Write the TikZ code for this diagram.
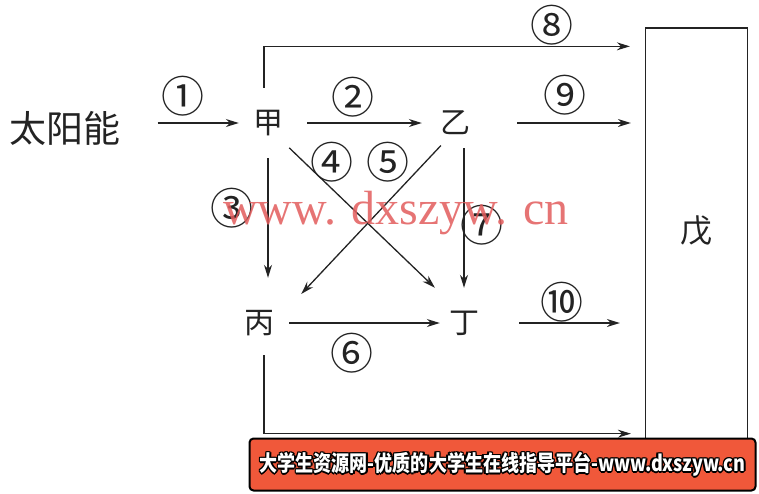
\documentclass[tikz,border=0pt]{standalone}
\usepackage{fontspec}
\newfontfamily\cjk{Noto Sans CJK SC}
\newfontfamily\markfont{Liberation Serif}
\usetikzlibrary{arrows.meta}

\definecolor{ink}{RGB}{35,35,35}
\definecolor{markred}{RGB}{226,92,92}
\definecolor{bannerred}{RGB}{240,88,58}

\newcommand\bannertext{\scalebox{0.82}[1]{\cjk\bfseries\fontsize{22}{22}\selectfont 大学生资源网-优质的大学生在线指导平台-www.dxszyw.cn}}

\begin{document}
\begin{tikzpicture}[x=1pt,y=-1pt,
    elem/.style={font=\cjk\fontsize{30}{30}\selectfont, inner sep=0pt, minimum size=30pt, text=ink},
    num/.style={font=\cjk\fontsize{43}{43}\selectfont, inner sep=0pt, text=ink},
    flow/.style={draw=ink, line width=1.3pt, -{Stealth[length=13pt,width=8pt]}},
    line/.style={draw=ink, line width=1.3pt}]
  \useasboundingbox (0,0) rectangle (759,493);

  % the five parts
  \node[elem, font=\cjk\fontsize{37}{37}\selectfont] (sun) at (65,128) {太阳能};
  \node[elem] (jia)  at (268,123) {甲};
  \node[elem] (yi)   at (455,123) {乙};
  \node[elem] (bing) at (259,323) {丙};
  \node[elem] (ding) at (464,323) {丁};
  \node[draw=ink, line width=1.3pt, inner sep=0pt, minimum width=102pt,
        minimum height=417pt, font=\cjk\fontsize{32}{32}\selectfont, text=ink]
        (wu) at (696.5,236.5) {\raisebox{14pt}{戊}};

  % flows
  \draw[flow, shorten <=37pt, shorten >=14pt] (sun.east |- jia) -- (jia.west);
  \draw[flow, shorten <=24pt, shorten >=18pt] (jia) -- (yi);
  \draw[flow, shorten <=20pt, shorten >=15pt] ([xshift=-4pt]jia.north) |- ([yshift=-19pt]wu.north west);
  \draw[flow, shorten <=47pt, shorten >=14pt] (yi.east) -- (yi -| wu.west);
  \draw[flow, shorten <=20pt, shorten >=30pt] (jia.south) -- (jia.south |- bing.north);
  \draw[flow, shorten <=10pt, shorten >=20pt] (yi.south -| ding) -- (ding.north);
  \draw[flow, shorten <=14pt, shorten >=29pt] ([xshift=-4pt]jia.south east) -- ([xshift=7pt]ding.north west);
  \draw[flow, shorten <=10pt, shorten >=19pt] ([xshift=8pt]yi.south west) -- ([xshift=14pt]bing.north east);
  \draw[flow, shorten <=15pt, shorten >=9pt] (bing) -- (ding);
  \draw[flow, shorten <=40pt, shorten >=25pt] (ding.east) -- (ding -| wu.west);
  \draw[flow, shorten <=17pt, shorten >=14pt] ([xshift=5pt]bing.south) |- ([yshift=12pt]wu.south west);

  % numbers
  \node[num] (n1)  at (183,96)  {①};
  \node[num] (n2)  at (353,97)  {②};
  \node[num] (n3)  at (232,208) {③};
  \node[num] (n4)  at (332,162) {④};
  \node[num] (n5)  at (388,162) {⑤};
  \node[num] (n6)  at (352,353) {⑥};
  \node[num] (n7)  at (482,225) {⑦};
  \node[num] (n8)  at (552,25)  {⑧};
  \node[num] (n9)  at (565,95)  {⑨};
  \node[num] (n10) at (562,302) {⑩};

  % watermark
  \node[font=\markfont\fontsize{48}{48}\selectfont, text=markred, opacity=.85, inner sep=0pt]
    (mark) at (396,213) {www. dxszyw. cn};

  % banner
  \node[draw=black, line width=2pt, rounded corners=4pt, fill=bannerred,
        minimum width=506pt, minimum height=52pt, inner sep=0pt] (banner) at (502.5,464.5) {};
  \foreach \a in {0,45,...,315}
    \node[text=black, inner sep=0pt] (bt\a) at ([shift={(\a:1.6)}]banner.center) {\bannertext};
  \node[text=white, inner sep=0pt] (bt) at (banner.center) {\bannertext};
\end{tikzpicture}
\end{document}
